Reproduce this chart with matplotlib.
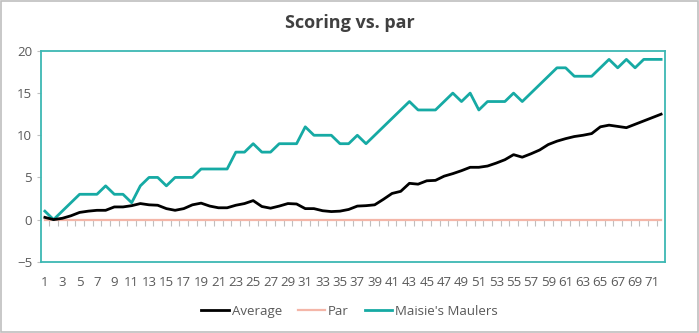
import matplotlib.pyplot as plt
from matplotlib.patches import Rectangle

plt.rcParams['font.family'] = ['Open Sans', 'DejaVu Sans']

holes = list(range(1, 73))

average = [0.26, 0.0, 0.15, 0.45, 0.85, 1.0, 1.1, 1.1, 1.5, 1.5,
           1.65, 1.9, 1.75, 1.7, 1.3, 1.1, 1.3, 1.75, 1.95, 1.6,
           1.4, 1.4, 1.7, 1.9, 2.25, 1.55, 1.35, 1.6, 1.9, 1.85,
           1.3, 1.3, 1.05, 0.95, 1.0, 1.2, 1.6, 1.65, 1.75, 2.4,
           3.1, 3.35, 4.3, 4.2, 4.6, 4.65, 5.15, 5.45, 5.8, 6.2,
           6.2, 6.35, 6.7, 7.1, 7.7, 7.4, 7.8, 8.25, 8.9, 9.3,
           9.6, 9.85, 10.0, 10.2, 11.0, 11.2, 11.05, 10.9, 11.3, 11.7,
           12.1, 12.5]

par = [0] * 72

maulers = [1, 0, 1, 2, 3, 3, 3, 4, 3, 3,
           2, 4, 5, 5, 4, 5, 5, 5, 6, 6,
           6, 6, 8, 8, 9, 8, 8, 9, 9, 9,
           11, 10, 10, 10, 9, 9, 10, 9, 10, 11,
           12, 13, 14, 13, 13, 13, 14, 15, 14, 15,
           13, 14, 14, 14, 15, 14, 15, 16, 17, 18,
           18, 17, 17, 17, 18, 19, 18, 19, 18, 19,
           19, 19]

teal = '#16AAA4'
grey = '#595959'

fig = plt.figure(figsize=(6.99, 3.33), dpi=100)
ax = fig.add_axes([0.058, 0.214, 0.894, 0.633])

ax.plot(holes, par, color='#F4B6A8', lw=1.6, label='Par', zorder=2)
ax.plot(holes, maulers, color=teal, lw=2, label="Maisie's Maulers", zorder=3)
ax.plot(holes, average, color='black', lw=2, label='Average', zorder=4)

ax.set_xlim(0.5, 72.5)
ax.set_ylim(-5, 20)
ax.set_yticks(range(-5, 21, 5))
ax.set_xticks(holes[::2])
ax.tick_params(axis='x', length=0, pad=10, labelsize=9.5, labelcolor=grey)
ax.tick_params(axis='y', length=3, color='#BFBFBF', pad=3, labelsize=9.5,
               labelcolor=grey)
for s in ax.spines.values():
    s.set_color('#3DB8B3')
    s.set_linewidth(1.3)

# category axis crossing at zero, ticks between categories
sec = ax.secondary_xaxis(0.2)
sec.set_xticks([h + 0.5 for h in holes[:-1]])
sec.tick_params(length=4, color='#BFBFBF', labelbottom=False)
sec.spines['bottom'].set_visible(False)

fig.suptitle('Scoring vs. par', y=0.93, va='center', fontsize=13,
             fontweight='bold', color='#404040')

h, l = ax.get_legend_handles_labels()
order = [2, 0, 1]
fig.legend([h[i] for i in order], [l[i] for i in order], loc='center',
           bbox_to_anchor=(0.5, 0.066), ncol=3, frameon=False, fontsize=9.5,
           handlelength=2.1, columnspacing=1.2, handletextpad=0.2,
           labelcolor=grey)

fig.patches.append(Rectangle((0.001, 0.002), 0.997, 0.995, transform=fig.transFigure,
                             fill=False, edgecolor='#BFBFBF', lw=1.2))

fig.savefig('out.png', dpi=100)
